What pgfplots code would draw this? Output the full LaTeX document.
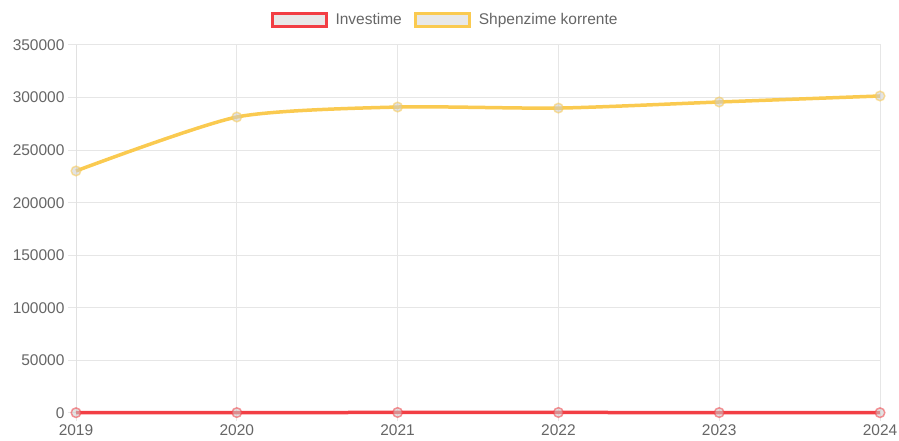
\documentclass[border=0pt]{standalone}
\usepackage{pgfplots}
\pgfplotsset{compat=1.18}
\usepackage{fontspec}
\setmainfont{Liberation Sans}
\definecolor{cred}{RGB}{242,62,68}
\definecolor{cyel}{RGB}{250,202,80}
\definecolor{cgrid}{RGB}{230,230,230}
\definecolor{ctext}{RGB}{102,102,102}
\begin{document}
\begin{tikzpicture}[x=1pt,y=1pt]
\useasboundingbox (0,0) rectangle (899,441);
\begin{axis}[
  at={(76pt,28pt)}, anchor=south west,
  scale only axis, width=804pt, height=368pt,
  xmin=2019, xmax=2024, ymin=0, ymax=350000,
  xtick={2019,2020,2021,2022,2023,2024},
  ytick={0,50000,100000,150000,200000,250000,300000,350000},
  scaled y ticks=false, scaled x ticks=false,
  xticklabel={\pgfmathprintnumber[fixed,precision=0,1000 sep={},assume math mode=true]{\tick}},
  yticklabel={\pgfmathprintnumber[fixed,precision=0,1000 sep={},assume math mode=true]{\tick}},
  ticklabel style={font=\fontsize{15.5}{18}\selectfont, text=ctext},
  grid=major, grid style={cgrid, line width=1pt},
  axis line style={cgrid!120, line width=1pt},
  tick style={cgrid, line width=1pt}, major tick length=8pt, tick align=outside,
  axis x line*=bottom, axis y line*=left,
  clip=false,
  legend columns=2,
  legend style={at={(0.459,1.068)}, anchor=center, draw=none, fill=none,
    font=\fontsize{15.5}{18}\selectfont, text=ctext,
    /tikz/every odd column/.append style={column sep=6pt},
    /tikz/every even column/.append style={column sep=10pt},
    inner sep=0pt},
  legend image code/.code={\draw[#1, line width=3pt, fill=gray!18, mark=none] (0pt,-6.5pt) rectangle (54pt,6.5pt);},
]
\addplot+[cred, line width=3.5pt, smooth, tension=0.4, mark=*, mark size=4.8pt,
  mark options={draw=cred, fill=gray!40, opacity=0.55, line width=1.5pt}]
  coordinates {(2019,300) (2020,400) (2021,500) (2022,500) (2023,400) (2024,300)};
\addlegendentry{Investime}
\addplot+[cyel, line width=3.5pt, smooth, tension=0.4, mark=*, mark size=4.8pt,
  mark options={draw=cyel, fill=gray!40, opacity=0.55, line width=1.5pt}]
  coordinates {(2019,230200) (2020,281500) (2021,291000) (2022,290000) (2023,295800) (2024,301500)};
\addlegendentry{Shpenzime korrente}
\draw[cgrid, line width=1pt] (axis cs:2019,350000) -- (axis cs:2024,350000) -- (axis cs:2024,0);
\end{axis}
\end{tikzpicture}
\end{document}
